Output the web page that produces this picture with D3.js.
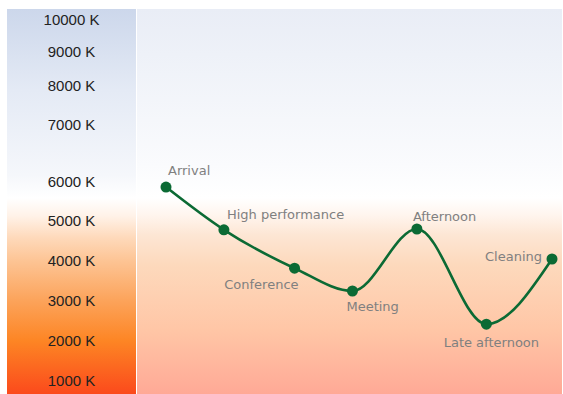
<!DOCTYPE html>
<meta charset="utf-8">
<html>
<head>
  <title>Colour temperature over the day</title>
  <style>
    body { margin: 0; background: #fff; }
    svg { width: 563px; height: 394px; display: block; }
    .ktick { font-family: 'Liberation Sans', Arial, sans-serif; font-size: 15px; fill: #222; text-anchor: middle; }
    .plabel { font-family: 'DejaVu Sans', sans-serif; font-size: 13px; fill: #808080; }
  </style>
  <script src="https://d3js.org/d3.v7.min.js"></script>
</head>
<body>
  <svg></svg>
  <script>
    // data
    var moments = ["Arrival", "High performance", "Conference", "Meeting", "Afternoon", "Late afternoon", "Cleaning"];
    var hours = [7, 8.5, 10.33, 11.83, 13.5, 15.3, 17];
    var kelvin = [5870, 4780, 3820, 3250, 4800, 2420, 4050];
    var tickValues = [1000, 2000, 3000, 4000, 5000, 6000, 7000, 8000, 9000, 10000];

    var svg = d3.select("svg");

    var band = {left: 7, right: 136};
    var plot = {left: 137, right: 562, top: 9, bottom: 394};

    // the kelvin axis is not evenly spaced above 5000 K
    var y = d3.scaleLinear()
      .domain(tickValues)
      .range([381, 341, 301, 261, 221, 182, 125, 86, 52, 20]);

    var x = d3.scaleLinear().domain([7, 17]).range([166, 552]);

    var defs = svg.append("defs");

    function gradient(id, stops) {
      var g = defs.append("linearGradient")
        .attr("id", id)
        .attr("gradientUnits", "userSpaceOnUse")
        .attr("x1", 0).attr("x2", 0)
        .attr("y1", plot.bottom).attr("y2", plot.top);
      g.selectAll("stop").data(stops).enter().append("stop")
        .attr("offset", function(d) { return (plot.bottom - d[0]) / (plot.bottom - plot.top); })
        .attr("stop-color", function(d) { return d[1]; });
    }

    gradient("bandGrad", [
      [394, "#fb4a1c"], [341, "#fd8524"], [301, "#fca35a"], [261, "#fdc494"],
      [238, "#fed9ba"], [216, "#fff2e8"], [198, "#ffffff"], [175, "#f5f7fb"], [90, "#e4eaf5"], [9, "#ccd7eb"]
    ]);
    gradient("plotGrad", [
      [394, "#ffa996"], [330, "#ffc6a6"], [265, "#fdd9bc"], [235, "#fde6d4"],
      [215, "#fff5ee"], [198, "#ffffff"], [165, "#fafbfd"], [9, "#e9edf6"]
    ]);

    svg.append("rect")
      .attr("x", band.left).attr("y", plot.top)
      .attr("width", band.right - band.left).attr("height", plot.bottom - plot.top)
      .attr("fill", "url(#bandGrad)");

    svg.append("rect")
      .attr("x", plot.left).attr("y", plot.top)
      .attr("width", plot.right - plot.left).attr("height", plot.bottom - plot.top)
      .attr("fill", "url(#plotGrad)");

    // kelvin labels
    svg.selectAll(".ktick")
      .data(tickValues)
      .enter().append("text")
        .attr("class", "ktick")
        .attr("x", (band.left + band.right) / 2)
        .attr("y", function(d) { return y(d); })
        .attr("dy", "0.36em")
        .text(function(d) { return d + " K"; });

    var data = moments.map(function(m, i) { return {name: m, h: hours[i], k: kelvin[i]}; });

    var line = d3.line()
      .x(function(d) { return x(d.h); })
      .y(function(d) { return y(d.k); })
      .curve(d3.curveMonotoneX);

    svg.append("path")
      .datum(data)
      .attr("fill", "none")
      .attr("stroke", "#0b6a34")
      .attr("stroke-width", 2.6)
      .attr("d", line);

    svg.selectAll(".pt")
      .data(data)
      .enter().append("circle")
        .attr("class", "pt")
        .attr("cx", function(d) { return x(d.h); })
        .attr("cy", function(d) { return y(d.k); })
        .attr("r", 5.5)
        .attr("fill", "#0b6a34");

    // where each label sits relative to its point
    var place = {
      "Arrival":          {dx: 2,  dy: -17, anchor: "start"},
      "High performance": {dx: 3,  dy: -15, anchor: "start"},
      "Conference":       {dx: 4,  dy: 16,  anchor: "end"},
      "Meeting":          {dx: -6, dy: 15,  anchor: "start"},
      "Afternoon":        {dx: -4, dy: -13, anchor: "start"},
      "Late afternoon":   {dx: 5,  dy: 18,  anchor: "middle"},
      "Cleaning":         {dx: -10, dy: -3, anchor: "end"}
    };

    svg.selectAll(".plabel")
      .data(data)
      .enter().append("text")
        .attr("class", "plabel")
        .attr("x", function(d) { return x(d.h) + place[d.name].dx; })
        .attr("y", function(d) { return y(d.k) + place[d.name].dy; })
        .attr("dy", "0.36em")
        .attr("text-anchor", function(d) { return place[d.name].anchor; })
        .text(function(d) { return d.name; });
  </script>
</body>
</html>
